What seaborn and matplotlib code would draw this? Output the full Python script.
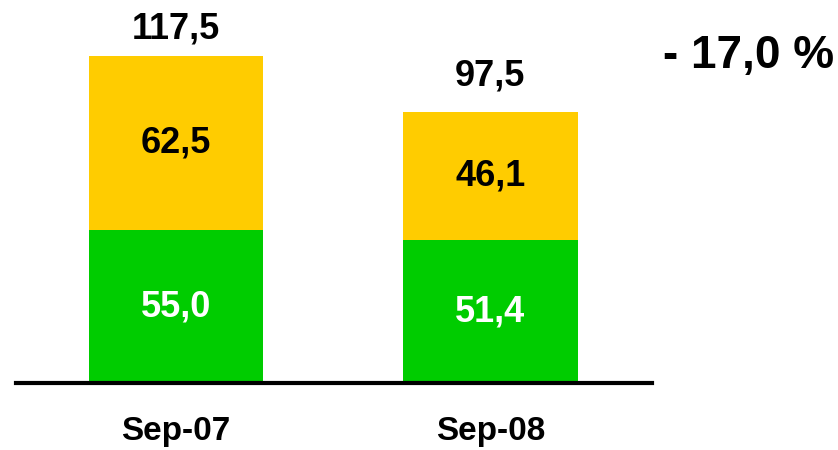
import numpy as np
import pandas as pd
import matplotlib.pyplot as plt
import seaborn as sns

periods = ["Sep-07", "Sep-08"]
lower_vals = [55.0, 51.4]
upper_vals = [62.5, 46.1]
totals = [117.5, 97.5]
change_label = "- 17,0 %"

sns.set_theme(style="white")
plt.rcParams["font.family"] = ["Liberation Sans", "DejaVu Sans"]
plt.rcParams["text.color"] = "black"

df = pd.DataFrame({"period": periods, "lower": lower_vals, "upper": upper_vals})
df["total"] = df["lower"] + df["upper"]

fig = plt.figure(figsize=(8.38, 4.5), dpi=100)
ax = fig.add_axes([16 / 838, 67 / 450, 636 / 838, 375.3 / 450])

# stacked bars: draw total in yellow, then lower part in green on top
sns.barplot(data=df, x="period", y="total", color="#FFCC00", width=0.556,
            saturation=1, ax=ax)
sns.barplot(data=df, x="period", y="lower", color="#00CC00", width=0.556,
            saturation=1, ax=ax)
for p in ax.patches:
    p.set_edgecolor("none")

ax.set_xlim(-0.51, 1.515)
ax.set_ylim(0, 135)

total_gap = [10, 13]  # space above bar for the total label
for i in range(len(periods)):
    lo, up, tot = lower_vals[i], upper_vals[i], totals[i]
    ax.text(i, lo / 2, f"{lo:.1f}".replace(".", ","), ha="center", va="center",
            color="white", fontsize=26, fontweight="bold")
    ax.text(i, lo + up / 2, f"{up:.1f}".replace(".", ","), ha="center", va="center",
            color="black", fontsize=26, fontweight="bold")
    ax.text(i, tot + total_gap[i], f"{tot:.1f}".replace(".", ","), ha="center",
            va="center", color="black", fontsize=26, fontweight="bold")

fig.text(749 / 838, 1 - 56 / 450, change_label, ha="center", va="center",
         fontsize=33, fontweight="bold", color="black")

ax.set_xlabel("")
ax.set_ylabel("")
ax.set_yticks([])
ax.tick_params(axis="x", length=0, pad=24, labelsize=24, labelcolor="black")
for lbl in ax.get_xticklabels():
    lbl.set_fontweight("bold")
for s in ["top", "right", "left"]:
    ax.spines[s].set_visible(False)
ax.spines["bottom"].set_linewidth(3)
ax.spines["bottom"].set_color("black")
ax.patch.set_alpha(0)

fig.savefig("out.png", dpi=100)
